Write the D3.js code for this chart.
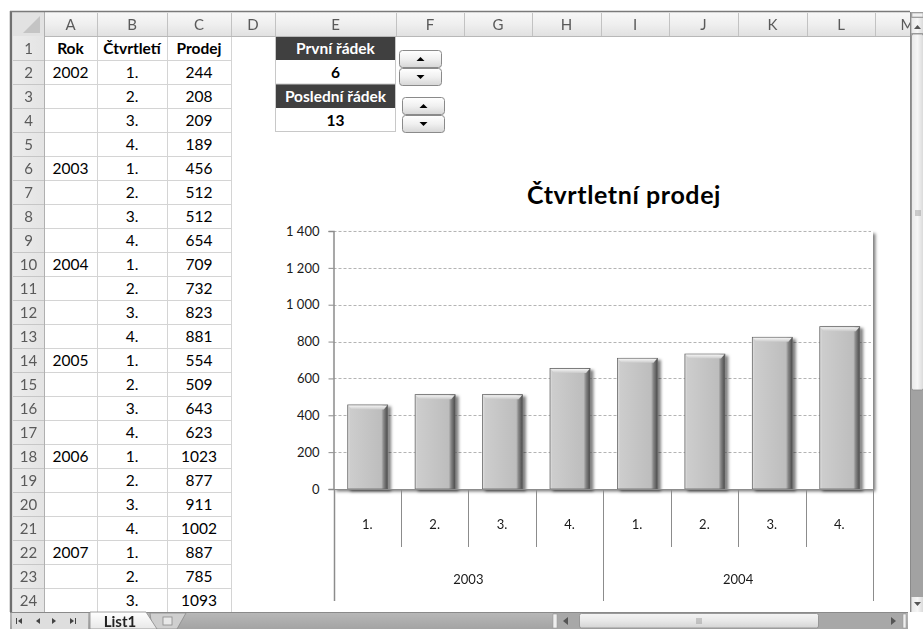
<!DOCTYPE html>
<html><head><meta charset="utf-8">
<script src="https://cdn.jsdelivr.net/npm/d3@7"></script>
<style>
html,body{margin:0;padding:0;background:#fff;overflow:hidden}
svg{display:block;font-family:Lato,"Noto Sans",sans-serif}
</style></head>
<body>
<svg id="c" width="923" height="629"></svg>
<script>
// ---------------- data ----------------
const colLetters = ["A","B","C","D","E","F","G","H","I","J","K","L","M"];
const headerRow = ["Rok","Čtvrtletí","Prodej"];
const years = ["2002","2003","2004","2005","2006","2007"];
const quarters = ["1.","2.","3.","4."];
const sales = [244,208,209,189,456,512,512,654,709,732,823,881,554,509,643,623,1023,877,911,1002,887,785,1093];
const firstRowLabel = "První řádek";
const lastRowLabel = "Poslední řádek";
const firstRow = 6;
const lastRow = 13;
const chartTitle = "Čtvrtletní prodej";
const yTicks = [0,200,400,600,800,1000,1200,1400];
const sheetName = "List1";

// ---------------- layout ----------------
const svg = d3.select("#c");
const W = 923, H = 629;
const colEdges = [44,97,167,231,275,396,464,532,601,669,738,807,875,945];
const rowTop = 36, rowH = 24, nRows = 24;
const rowHeadX0 = 13, rowHeadX1 = 44;
const sheetRight = 910, sheetBottom = 612;
const cellFont = 15.5;

const defs = svg.append("defs");
function lg(id, stops, vertical=true){
  const g = defs.append("linearGradient").attr("id",id)
    .attr("x1",0).attr("y1",0).attr("x2",vertical?0:1).attr("y2",vertical?1:0);
  stops.forEach(s=>g.append("stop").attr("offset",s[0]).attr("stop-color",s[1]));
}
lg("colHead",[[0,"#f8f8f8"],[0.5,"#efefef"],[1,"#e1e1e1"]]);
lg("rowHead",[[0,"#ececec"],[1,"#e4e4e4"]],false);
lg("btn",[[0,"#ffffff"],[0.5,"#f0f0f0"],[1,"#d6d6d6"]]);
lg("barH",[[0,"#e2e2e2"],[0.06,"#cdcdcd"],[0.5,"#c4c4c4"],[0.84,"#bdbdbd"],[0.9,"#858585"],[1,"#4a4a4a"]],false);
lg("barTop",[[0,"#f4f4f4"],[1,"#cacaca"]]);
lg("vscroll",[[0,"#e8e8e8"],[0.5,"#f6f6f6"],[1,"#d8d8d8"]],false);
lg("hscroll",[[0,"#f4f4f4"],[0.5,"#e8e8e8"],[1,"#d4d4d4"]]);
lg("bottomBar",[[0,"#b8b8b8"],[1,"#a4a4a4"]]);
lg("tab",[[0,"#ffffff"],[1,"#e8e8e8"]]);

const fShadow = defs.append("filter").attr("id","shadow").attr("x","-20%").attr("y","-20%").attr("width","150%").attr("height","150%");
fShadow.append("feDropShadow").attr("dx",3).attr("dy",2).attr("stdDeviation",1.8).attr("flood-color","#000").attr("flood-opacity",0.5);
const fPlot = defs.append("filter").attr("id","plotShadow").attr("x","-5%").attr("y","-5%").attr("width","115%").attr("height","115%");
fPlot.append("feDropShadow").attr("dx",2.5).attr("dy",2.5).attr("stdDeviation",1.5).attr("flood-color","#000").attr("flood-opacity",0.5);

svg.append("rect").attr("width",W).attr("height",H).attr("fill","#fff");

// ---------------- cells A1:C24 ----------------
const cells = svg.append("g");
const rowY = r => rowTop + rowH*(r-1);
for(let r=1;r<=nRows+1;r++){
  cells.append("line").attr("x1",44).attr("x2",colEdges[3]).attr("y1",rowY(r)+0.5).attr("y2",rowY(r)+0.5)
    .attr("stroke","#d4d4d4");
}
for(let c=0;c<=3;c++){
  cells.append("line").attr("x1",colEdges[c]+0.5).attr("x2",colEdges[c]+0.5).attr("y1",rowTop).attr("y2",sheetBottom)
    .attr("stroke","#d4d4d4");
}
const cellText = (col,row,txt,bold,color)=>{
  cells.append("text").attr("x",(colEdges[col]+colEdges[col+1])/2).attr("y",rowY(row)+17.5)
    .attr("text-anchor","middle").attr("font-size",cellFont).attr("font-weight",bold?"bold":"normal")
    .attr("fill",color||"#000").text(txt);
};
headerRow.forEach((h,i)=>cellText(i,1,h,true));
sales.forEach((v,i)=>{
  const row = i+2;
  if(i%4===0) cellText(0,row,years[i/4]);
  cellText(1,row,quarters[i%4]);
  cellText(2,row,String(v));
});

// ---------------- E1:E4 control cells ----------------
const eX0 = colEdges[4], eX1 = colEdges[5], eC = (eX0+eX1)/2;
const ctl = svg.append("g");
ctl.append("rect").attr("x",eX0).attr("y",rowY(1)).attr("width",eX1-eX0).attr("height",rowH).attr("fill","#404040");
ctl.append("rect").attr("x",eX0).attr("y",rowY(3)).attr("width",eX1-eX0).attr("height",rowH).attr("fill","#404040");
ctl.append("rect").attr("x",eX0+0.5).attr("y",rowY(1)+0.5).attr("width",eX1-eX0-1).attr("height",rowH*4-1)
  .attr("fill","none").attr("stroke","#c8c8c8");
ctl.append("line").attr("x1",eX0).attr("x2",eX1).attr("y1",rowY(3)).attr("y2",rowY(3)).attr("stroke","#c8c8c8");
[[1,firstRowLabel,"#fff"],[2,String(firstRow),"#000"],[3,lastRowLabel,"#fff"],[4,String(lastRow),"#000"]].forEach(d=>{
  ctl.append("text").attr("x",eC).attr("y",rowY(d[0])+17.5).attr("text-anchor","middle")
    .attr("font-size",cellFont).attr("font-weight","bold").attr("fill",d[2]).text(d[1]);
});
function spin(x,y,w,h){
  const g = svg.append("g");
  [0,1].forEach(k=>{
    const yy = y + k*h/2;
    g.append("rect").attr("x",x+0.5).attr("y",yy+0.5).attr("width",w-1).attr("height",h/2-1).attr("rx",3)
      .attr("fill","url(#btn)").attr("stroke","#8a8a8a");
    const cx = x+w/2, cy = yy+h/4;
    const tri = k===0 ? `M${cx-4},${cy+2}L${cx+4},${cy+2}L${cx},${cy-2}Z` : `M${cx-4},${cy-2}L${cx+4},${cy-2}L${cx},${cy+2}Z`;
    g.append("path").attr("d",tri).attr("fill","#000");
  });
}
spin(399,50,43,36);
spin(402,97,43,36);

// ---------------- chart ----------------
const chartVals = sales.slice(firstRow-2, lastRow-1);
const chartCats = chartVals.map((v,i)=>({q:quarters[(firstRow-2+i)%4], y:years[Math.floor((firstRow-2+i)/4)], v, i}));
const plotL = 333.5, plotR = 873, plotT = 231, plotB = 489;
const y = d3.scaleLinear().domain([0,1400]).range([plotB,plotT]);
const x = d3.scaleBand().domain(chartCats.map(d=>d.i)).range([plotL,plotR]).paddingInner(0).paddingOuter(0);
const chart = svg.append("g");

chart.append("text").attr("x",624).attr("y",204).attr("text-anchor","middle")
  .attr("font-size",25).attr("letter-spacing",0.6).attr("font-weight","bold").attr("fill","#000").text(chartTitle);

chart.append("rect").attr("x",plotL).attr("y",plotT).attr("width",plotR-plotL).attr("height",plotB-plotT)
  .attr("fill","#fff").attr("filter","url(#plotShadow)");

chart.append("g").selectAll("line").data(yTicks.filter(t=>t>0)).join("line")
  .attr("x1",plotL).attr("x2",plotR-2).attr("y1",d=>Math.round(y(d))+0.5).attr("y2",d=>Math.round(y(d))+0.5)
  .attr("stroke","#b4b4b4").attr("stroke-dasharray","3,2");

const loc = d3.formatLocale({decimal:",",thousands:" ",grouping:[3],currency:["",""]});
const yAxis = d3.axisLeft(y).tickValues(yTicks).tickSize(5).tickPadding(9).tickFormat(loc.format(",d"));
const ya = chart.append("g").attr("transform",`translate(${plotL},0)`).call(yAxis);
ya.select(".domain").attr("stroke","#8c8c8c").attr("stroke-width",1.5);
ya.selectAll(".tick line").attr("stroke","#8c8c8c");
ya.selectAll(".tick text").attr("font-size",13).attr("fill","#1a1a1a")
  .attr("font-family","Lato,'Noto Sans',sans-serif").style("white-space","pre");

const bw = 40;
const bars = chart.append("g").attr("filter","url(#shadow)");
const bg = bars.selectAll("g").data(chartCats).join("g")
  .attr("transform",d=>`translate(${x(d.i)+x.bandwidth()/2-bw/2+0.5},0)`);
bg.append("rect").attr("x",0).attr("y",d=>y(d.v)).attr("width",bw).attr("height",d=>plotB-y(d.v))
  .attr("fill","url(#barH)").attr("stroke","#666").attr("stroke-width",0.8);
bg.append("path").attr("d",d=>{const t=y(d.v);return `M0.5,${t+0.5}L${bw-0.5},${t+0.5}L${bw-4},${t+4.5}L4,${t+4.5}Z`;})
  .attr("fill","url(#barTop)");

chart.append("line").attr("x1",plotL-4).attr("x2",plotR).attr("y1",plotB+0.5).attr("y2",plotB+0.5)
  .attr("stroke","#8c8c8c").attr("stroke-width",1.2);
const bounds = chartCats.map(d=>x(d.i)).concat([plotR]);
chart.append("g").selectAll("line").data(bounds).join("line")
  .attr("x1",d=>Math.round(d)+0.5).attr("x2",d=>Math.round(d)+0.5)
  .attr("y1",plotB).attr("y2",(d,i)=>{
    const idx = firstRow-2+i;
    return (idx%4===0 || i===bounds.length-1) ? 601 : 547;
  })
  .attr("stroke","#8c8c8c").attr("stroke-width",(d,i)=>i===0?1.5:1);
chart.append("g").selectAll("text").data(chartCats).join("text")
  .attr("x",d=>x(d.i)+x.bandwidth()/2).attr("y",529).attr("text-anchor","middle")
  .attr("font-size",13).attr("fill","#1a1a1a").text(d=>d.q);
const yearGroups = d3.groups(chartCats,d=>d.y);
chart.append("g").selectAll("text").data(yearGroups).join("text")
  .attr("x",d=>(x(d[1][0].i)+x(d[1][d[1].length-1].i)+x.bandwidth())/2).attr("y",584).attr("text-anchor","middle")
  .attr("font-size",13).attr("fill","#1a1a1a").text(d=>d[0]);

// ---------------- headers ----------------
const hdr = svg.append("g");
hdr.append("rect").attr("x",rowHeadX0).attr("y",12).attr("width",sheetRight-rowHeadX0).attr("height",24).attr("fill","url(#colHead)");
colLetters.forEach((c,i)=>{
  const x0 = colEdges[i], x1 = Math.min(colEdges[i+1], sheetRight+30);
  hdr.append("line").attr("x1",x1+0.5).attr("x2",x1+0.5).attr("y1",13).attr("y2",36).attr("stroke","#c2c2c2");
  hdr.append("text").attr("x",(x0+x1)/2).attr("y",29.5).attr("text-anchor","middle")
    .attr("font-size",15).attr("fill","#5a5a5a").text(c);
});
hdr.append("line").attr("x1",rowHeadX0).attr("x2",sheetRight).attr("y1",36.5).attr("y2",36.5).attr("stroke","#b8b8b8");
hdr.append("rect").attr("x",rowHeadX0).attr("y",36).attr("width",rowHeadX1-rowHeadX0).attr("height",sheetBottom-36).attr("fill","url(#rowHead)");
for(let r=1;r<=nRows;r++){
  hdr.append("line").attr("x1",rowHeadX0).attr("x2",rowHeadX1).attr("y1",rowY(r+1)+0.5).attr("y2",rowY(r+1)+0.5).attr("stroke","#c6c6c6");
  hdr.append("text").attr("x",(rowHeadX0+rowHeadX1)/2).attr("y",rowY(r)+17.5).attr("text-anchor","middle")
    .attr("font-size",15).attr("fill","#5a5a5a").text(r);
}
hdr.append("line").attr("x1",rowHeadX1+0.5).attr("x2",rowHeadX1+0.5).attr("y1",12).attr("y2",sheetBottom).attr("stroke","#b0b0b0");
hdr.append("rect").attr("x",rowHeadX0).attr("y",12).attr("width",rowHeadX1-rowHeadX0).attr("height",24).attr("fill","#e2e2e2");
hdr.append("path").attr("d",`M${rowHeadX1-4},${16}L${rowHeadX1-4},${33}L${rowHeadX1-21},${33}Z`).attr("fill","#c4c4c4");
hdr.append("line").attr("x1",11).attr("x2",11).attr("y1",11).attr("y2",612).attr("stroke","#707070").attr("stroke-width",2.5);
hdr.append("line").attr("x1",10).attr("x2",sheetRight).attr("y1",11.5).attr("y2",11.5).attr("stroke","#7a7a7a").attr("stroke-width",1.5);

// ---------------- vertical scrollbar ----------------
const vs = svg.append("g");
vs.append("rect").attr("x",sheetRight).attr("y",12).attr("width",W-sheetRight).attr("height",sheetBottom-12).attr("fill","#a2a2a2");
vs.append("line").attr("x1",sheetRight+0.5).attr("x2",sheetRight+0.5).attr("y1",12).attr("y2",sheetBottom).attr("stroke","#8a8a8a");
vs.append("rect").attr("x",sheetRight+2).attr("y",13).attr("width",11).attr("height",4).attr("fill","#f0f0f0").attr("stroke","#9a9a9a").attr("stroke-width",0.6);
vs.append("rect").attr("x",sheetRight+1.5).attr("y",18).attr("width",12).attr("height",15).attr("fill","url(#vscroll)");
vs.append("path").attr("d",`M${sheetRight+4},29L${sheetRight+11},29L${sheetRight+7.5},25Z`).attr("fill","#555");
vs.append("rect").attr("x",sheetRight+1.5).attr("y",34).attr("width",12).attr("height",356).attr("rx",2)
  .attr("fill","url(#vscroll)").attr("stroke","#8c8c8c").attr("stroke-width",0.8);
[-2,0,2].forEach(o=>vs.append("line").attr("x1",sheetRight+5).attr("x2",sheetRight+11).attr("y1",213+o).attr("y2",213+o).attr("stroke","#8a8a8a").attr("stroke-width",0.8));
vs.append("rect").attr("x",sheetRight+1.5).attr("y",597).attr("width",12).attr("height",15).attr("fill","url(#vscroll)");
vs.append("path").attr("d",`M${sheetRight+4},602L${sheetRight+11},602L${sheetRight+7.5},606Z`).attr("fill","#555");

// ---------------- bottom bar ----------------
const bb = svg.append("g");
bb.append("rect").attr("x",0).attr("y",sheetBottom).attr("width",W).attr("height",H-sheetBottom).attr("fill","#fff");
bb.append("rect").attr("x",10).attr("y",sheetBottom).attr("width",W-10).attr("height",H-sheetBottom).attr("fill","url(#bottomBar)");
bb.append("line").attr("x1",10).attr("x2",W).attr("y1",sheetBottom+0.5).attr("y2",sheetBottom+0.5).attr("stroke","#8a8a8a");
bb.append("rect").attr("x",12).attr("y",sheetBottom+1).attr("width",76).attr("height",H-sheetBottom-1).attr("fill","#dedede");
const navY = 621;
[[20,"first"],[38,"prev"],[54,"next"],[72,"last"]].forEach(([cx,k])=>{
  const dir = (k==="first"||k==="prev") ? -1 : 1;
  bb.append("path").attr("d",`M${cx+2*dir},${navY}L${cx-2*dir},${navY-3}L${cx-2*dir},${navY+3}Z`).attr("fill","#444");
  if(k==="first") bb.append("line").attr("x1",cx-3.5).attr("x2",cx-3.5).attr("y1",navY-3).attr("y2",navY+3).attr("stroke","#444");
  if(k==="last") bb.append("line").attr("x1",cx+3.5).attr("x2",cx+3.5).attr("y1",navY-3).attr("y2",navY+3).attr("stroke","#444");
});
bb.append("path").attr("d",`M150,${sheetBottom+1}L186,${sheetBottom+1}L177,${H}L152,${H}Z`).attr("fill","#cfcfcf").attr("stroke","#8a8a8a").attr("stroke-width",0.8);
bb.append("rect").attr("x",163).attr("y",617).attr("width",9).attr("height",8).attr("fill","#e8e8e8").attr("stroke","#8a8a8a").attr("stroke-width",0.8);
bb.append("path").attr("d",`M90,${sheetBottom}L146,${sheetBottom}L157,${H}L90,${H}Z`).attr("fill","url(#tab)").attr("stroke","#8a8a8a").attr("stroke-width",0.8);
bb.append("text").attr("x",120).attr("y",626.5).attr("text-anchor","middle").attr("font-size",15).attr("font-weight","bold").attr("fill","#222").text(sheetName);
bb.append("rect").attr("x",553).attr("y",sheetBottom+1).attr("width",353).attr("height",H-sheetBottom-1).attr("fill","#a8a8a8");
bb.append("rect").attr("x",553).attr("y",sheetBottom+2).attr("width",4).attr("height",14).attr("fill","#efefef").attr("stroke","#999").attr("stroke-width",0.6);
bb.append("path").attr("d",`M563,621L568,617L568,625Z`).attr("fill","#555");
bb.append("rect").attr("x",579.5).attr("y",sheetBottom+1.5).attr("width",239).attr("height",14.5).attr("rx",2).attr("fill","url(#hscroll)").attr("stroke","#8c8c8c").attr("stroke-width",0.8);
[-2,0,2].forEach(o=>bb.append("line").attr("x1",699+o).attr("x2",699+o).attr("y1",618).attr("y2",624).attr("stroke","#8a8a8a").attr("stroke-width",0.8));
bb.append("path").attr("d",`M896,621L891,617L891,625Z`).attr("fill","#555");
bb.append("rect").attr("x",903).attr("y",sheetBottom+2).attr("width",3).attr("height",14).attr("fill","#efefef").attr("stroke","#999").attr("stroke-width",0.6);
bb.append("rect").attr("x",908).attr("y",sheetBottom).attr("width",15).attr("height",H-sheetBottom).attr("fill","#fff");
</script>
</body></html>
